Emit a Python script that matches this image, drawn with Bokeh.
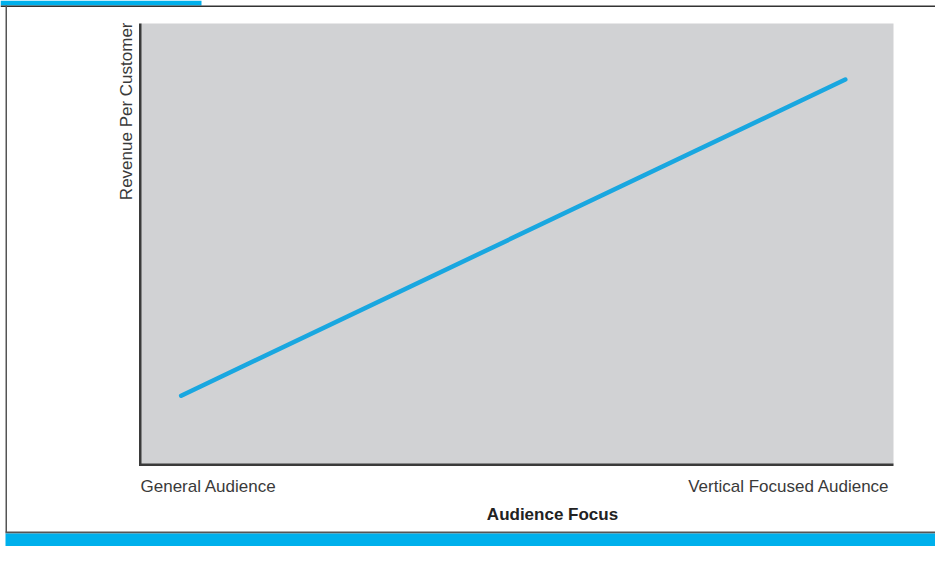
from bokeh.plotting import figure
from bokeh.models import Range1d, BoxAnnotation, Label
from bokeh.embed import file_html
from bokeh.resources import INLINE
import math

# ---- data (axes are unitless 0..1) ----
x_categories = ["General Audience", "Vertical Focused Audience"]
x_title = "Audience Focus"
y_title = "Revenue Per Customer"
audience_focus = [0.054, 0.936]
revenue_per_customer = [0.156, 0.873]

W, H = 935, 546
# grey plotting area in figure pixels
FL, FR, FT, FB = 140, 893, 23, 464
FW, FH = FR - FL, FB - FT

def fx(px):
    return (px - FL) / FW

def fy(py):
    return (FB - py) / FH

p = figure(width=W, height=H, output_backend="svg", toolbar_location=None,
           x_axis_type=None, y_axis_type=None,
           x_range=Range1d(fx(0), fx(W)), y_range=Range1d(fy(H), fy(0)),
           min_border=0, min_border_left=0, min_border_right=0,
           min_border_top=0, min_border_bottom=0)
p.grid.visible = False
p.outline_line_color = None
p.background_fill_color = "white"
p.border_fill_color = "white"

def box(l, r, t, b, color):
    p.add_layout(BoxAnnotation(left=fx(l), right=fx(r), top=fy(t), bottom=fy(b),
                               fill_color=color, fill_alpha=1, line_color=None, level="underlay"))

# grey plotting area
p.add_layout(BoxAnnotation(left=0, right=1, bottom=0, top=1, fill_color="#d1d2d4", fill_alpha=1,
                           line_color=None, level="underlay"))
# axis lines
box(138.5, 141, FT, FB + 1.5, "#3a3a3a")
box(138.5, FR, FB - 1, FB + 1.5, "#3a3a3a")

p.line(audience_focus, revenue_per_customer, line_color="#19a7e0", line_width=4.5, line_cap="round")

TXT = "#3a3a3a"
FONT = "Liberation Sans"
p.add_layout(Label(x=fx(140), y=fy(486), text=x_categories[0], text_align="left", text_baseline="middle",
                   text_font=FONT, text_font_size="17px", text_color=TXT))
p.add_layout(Label(x=fx(889), y=fy(486), text=x_categories[1], text_align="right", text_baseline="middle",
                   text_font=FONT, text_font_size="17px", text_color=TXT))
p.add_layout(Label(x=fx(552), y=fy(514), text=x_title, text_align="center", text_baseline="middle",
                   text_font=FONT, text_font_size="17px", text_font_style="bold", text_color="#222222"))
p.add_layout(Label(x=fx(125.5), y=fy(22), text=y_title, text_align="right", text_baseline="middle",
                   angle=math.pi / 2, text_font=FONT, text_font_size="17px", text_color=TXT))

# page frame decorations
BLUE = "#00b0ec"
box(0, 201, 0, 5, BLUE)
box(0, W, 5, 6.5, "#333333")
box(5, 6.5, 5, 532, "#555555")
box(5, W, 531, 533, "#555555")
box(5, W, 533, H, BLUE)

open("out.html", "w").write(file_html(p, INLINE))
